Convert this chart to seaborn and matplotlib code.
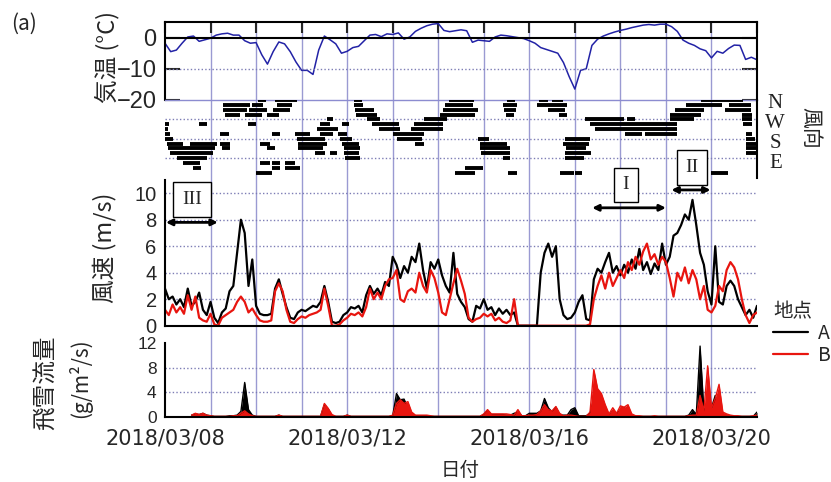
import numpy as np
import pandas as pd
import matplotlib
matplotlib.use("Agg")
import matplotlib.pyplot as plt
import matplotlib.dates as mdates
import matplotlib.transforms as mtransforms
import seaborn as sns

# ---------------- data ----------------
start_date = "2018-03-08"
n_days = 13
sites = ["A", "B"]

temp_step_hours = 3
temperature = [
    -1.8, -4.5, -4.0, -1.8, 0.2, 0.5, -1.2, -0.7,
    -0.2, 0.8, 1.2, 1.4, 0.8, 0.8, -1.0, -1.8,
    -1.6, -5.5, -8.5, -4.5, -1.4, -2.0, -4.5, -7.8,
    -10.5, -10.5, -11.8, -4.0, 0.5, -0.7, -2.0, -5.0,
    -4.4, -3.2, -2.8, -1.0, 0.8, 1.0, 0.3, 1.2,
    1.0, 1.5, -0.5, 0.2, 2.0, 3.0, 3.8, 4.3,
    4.5, 2.3, 1.9, 2.2, 2.5, 2.2, -1.5, -0.8,
    -1.0, -1.2, 0.2, 0.8, 0.6, 0.3, 0.0, -0.3,
    -1.0, -1.8, -3.2, -3.8, -4.4, -5.0, -8.0, -12.5,
    -16.5, -10.5, -10.0, -2.5, -0.5, 0.5, 1.2, 1.8,
    2.3, 2.7, 3.2, 3.6, 4.0, 4.2, 4.0, 4.3,
    4.3, 3.5, 2.0, -0.8, -1.8, -2.5, -3.6, -4.2,
    -6.5, -4.4, -5.0, -3.5, -2.4, -2.5, -7.0, -6.3,
    -7.1,
]

speed_step_hours = 2
speed_A = [
    2.8, 2.0, 2.2, 1.6, 2.0, 1.4, 2.8, 1.5, 1.8, 2.5, 1.2, 0.8,
    1.8, 0.6, 0.2, 1.0, 1.3, 2.6, 3.0, 5.5, 8.0, 7.0, 3.0, 5.0,
    1.5, 0.9, 0.8, 0.8, 0.9, 2.8, 3.5, 2.4, 1.4, 0.6, 0.5, 1.0,
    1.2, 1.1, 1.3, 1.5, 1.4, 1.8, 3.0, 1.8, 0.3, 0.2, 0.3, 0.8,
    1.0, 1.4, 1.3, 1.5, 1.0, 2.3, 3.0, 2.4, 2.8, 2.3, 3.3, 3.0,
    5.2, 4.6, 3.6, 4.5, 4.0, 5.2, 4.8, 6.2, 4.2, 2.8, 4.8, 4.3,
    5.0, 3.8, 3.0, 2.5, 5.5, 2.4, 1.8, 1.4, 0.5, 0.3, 1.5, 1.3,
    2.0, 1.2, 1.4, 0.8, 1.3, 0.9, 1.2, 0.8, 1.0, 0.0, 0.0, 0.0,
    0.0, 0.0, 0.0, 4.0, 5.5, 6.2, 5.2, 6.0, 2.0, 0.8, 0.5, 0.6,
    1.0, 1.8, 2.3, 0.5, 0.4, 3.5, 4.3, 4.0, 4.8, 5.5, 4.0, 4.5,
    3.8, 4.6, 4.0, 5.0, 4.3, 5.8, 4.2, 4.8, 3.9, 4.7, 4.2, 6.2,
    4.6, 5.2, 6.8, 7.0, 7.6, 8.4, 8.0, 9.5, 7.6, 5.5, 4.6, 2.6,
    1.6, 6.0, 1.8, 1.6, 3.0, 3.4, 3.0, 2.0, 1.4, 0.8, 1.2, 0.6,
    1.5,
]
speed_B = [
    1.2, 0.8, 1.6, 1.0, 1.4, 0.9, 2.3, 1.2, 2.2, 0.6, 0.4, 0.3,
    0.9, 0.1, 0.0, 0.6, 0.8, 1.0, 1.2, 1.8, 2.2, 1.8, 1.0, 1.3,
    0.8, 0.4, 0.3, 0.3, 0.4, 2.6, 3.2, 2.6, 1.2, 0.3, 0.2, 0.5,
    0.7, 0.6, 0.8, 0.9, 1.0, 1.2, 2.8, 1.5, 0.0, 0.0, 0.1, 0.4,
    0.6, 0.9, 0.8, 1.0, 0.7, 1.4, 2.8, 2.0, 2.5, 2.0, 3.0, 3.5,
    3.6, 4.2, 2.0, 1.8, 2.6, 2.8, 2.5, 4.0, 3.0, 2.5, 4.2, 3.6,
    2.5, 1.0, 0.8, 2.0, 3.2, 4.3, 3.4, 2.4, 0.6, 0.3, 0.5, 0.6,
    0.9, 0.7, 0.9, 0.4, 0.6, 0.3, 0.2, 0.4, 2.0, 0.0, 0.0, 0.0,
    0.0, 0.0, 0.0, 0.0, 0.0, 0.0, 0.0, 0.0, 0.0, 0.0, 0.0, 0.0,
    0.0, 0.0, 0.0, 0.0, 0.1, 2.0, 3.0, 3.8, 2.8, 4.0, 3.0, 3.6,
    4.2, 3.6, 4.8, 4.2, 5.2, 4.6, 5.6, 6.2, 5.0, 5.4, 4.6, 5.2,
    4.8, 3.6, 2.2, 4.0, 3.4, 4.4, 3.2, 4.2, 3.5, 2.0, 3.0, 1.2,
    1.0, 1.5, 3.0, 2.6, 4.2, 4.8, 4.4, 3.5, 2.0, 0.8, 0.2, 0.8,
    1.0,
]

nan = float("nan")
flux_A = [
    nan, nan, nan, nan, nan, nan, nan, 0.3, 0.5, 0.4, 0.6, 0.3,
    0.2, 0.1, 0.1, 0.1, 0.1, 0.2, 0.2, 0.3, 0.9, 5.6, 1.2, 0.3,
    0.1, 0.1, 0.1, 0.1, 0.1, 0.1, 0.3, 0.1, 0.1, 0.1, 0.1, 0.1,
    0.1, 0.1, 0.1, 0.1, 0.1, 0.1, 2.0, 1.3, 0.2, 0.1, 0.1, 0.1,
    0.3, 0.1, 0.1, 0.1, 0.1, 0.1, 0.1, 0.1, 0.1, 0.1, 0.1, 0.1,
    0.2, 3.8, 2.8, 2.9, 1.5, 0.6, 0.2, 0.2, 0.2, 0.2, 0.1, 0.1,
    0.1, 0.1, 0.1, 0.1, 0.1, 0.1, 0.1, 0.1, 0.1, 0.1, 0.1, 0.1,
    0.4, 1.0, 0.4, 0.4, 0.4, 0.4, 0.3, 0.3, 0.6, 0.8, 0.2, 0.2,
    0.6, 0.6, 0.6, 1.0, 3.0, 1.5, 0.8, 1.6, 0.3, 0.3, 0.3, 1.2,
    1.5, 0.2, 0.2, 0.2, 0.6, 3.0, 2.0, 1.0, 0.3, 0.3, 1.0, 0.5,
    1.2, 1.5, 0.6, 0.1, 0.1, 0.1, 0.1, 0.1, 0.1, 0.1, 0.1, 0.1,
    0.1, 0.1, 0.1, 0.1, 0.1, 0.1, 0.3, 1.2, 0.4, 11.5, 1.0, 2.0,
    1.5, 3.5, 1.0, 0.4, 0.3, 0.1, 0.1, 0.1, 0.1, 0.1, 0.1, 0.1,
    0.8,
]
flux_B = [
    nan, nan, nan, nan, nan, nan, nan, 0.3, 0.6, 0.4, 0.6, 0.3,
    0.2, 0.1, 0.1, 0.1, 0.1, 0.1, 0.2, 0.2, 0.6, 1.0, 0.5, 0.2,
    0.1, 0.1, 0.1, 0.1, 0.1, 0.1, 0.3, 0.1, 0.1, 0.1, 0.1, 0.1,
    0.1, 0.1, 0.1, 0.1, 0.1, 0.1, 2.2, 1.4, 0.4, 0.1, 0.1, 0.1,
    0.3, 0.1, 0.1, 0.1, 0.1, 0.1, 0.1, 0.1, 0.1, 0.1, 0.1, 0.1,
    0.3, 2.2, 2.8, 2.2, 2.5, 0.8, 0.3, 0.3, 0.3, 0.3, 0.2, 0.1,
    0.1, 0.1, 0.1, 0.1, 0.1, 0.1, 0.1, 0.1, 0.1, 0.1, 0.1, 0.1,
    0.5, 1.2, 0.5, 0.5, 0.5, 0.5, 0.5, 0.4, 0.3, 1.2, 0.2, 0.2,
    0.3, 0.3, 0.4, 1.0, 2.0, 1.2, 1.0, 1.7, 0.6, 0.2, 0.3, 0.3,
    0.2, 0.1, 0.1, 0.1, 0.8, 7.7, 4.6, 3.8, 2.0, 0.5, 1.5, 0.6,
    1.8, 1.6, 2.0, 0.5, 0.2, 0.2, 0.1, 0.1, 0.1, 0.2, 0.1, 0.1,
    0.1, 0.1, 0.1, 0.1, 0.1, 0.1, 0.2, 0.3, 0.3, 3.5, 1.0, 8.3,
    1.5, 3.0, 5.3, 0.8, 0.5, 0.3, 0.2, 0.2, 0.1, 0.1, 0.1, 0.2,
    0.3,
]

# wind-direction periods (start day, end day) after start_date, per compass point
dir_N = [(2.05, 2.22), (2.42, 2.90), (4.14, 4.32), (6.24, 6.78), (7.50, 7.68),
         (8.22, 8.42), (8.50, 8.74), (11.76, 12.70)]
dir_NNW = [(1.28, 1.87), (1.90, 2.16), (2.45, 2.78), (4.14, 4.34), (6.15, 6.77),
           (7.43, 7.73), (8.17, 8.83), (11.43, 12.24), (12.38, 12.86)]
dir_NW = [(1.28, 1.80), (1.85, 2.23), (2.38, 2.75), (4.18, 4.58), (6.10, 6.88),
          (7.45, 7.70), (8.40, 8.79), (11.20, 11.83), (12.30, 12.86)]
dir_WNW = [(1.32, 1.65), (1.76, 2.12), (2.23, 2.50), (4.20, 4.65), (6.04, 6.81),
           (7.48, 7.66), (8.65, 8.83), (11.10, 11.78), (12.67, 12.90)]
dir_W = [(3.55, 3.70), (4.43, 4.73), (5.68, 6.19), (9.23, 10.07), (10.14, 10.33),
         (11.10, 11.62), (12.67, 12.90)]
dir_WSW = [(0.00, 0.08), (0.75, 0.92), (1.83, 2.00), (3.40, 3.63), (3.88, 4.03),
           (4.54, 5.13), (5.46, 6.11), (9.34, 11.24), (12.70, 12.90)]
dir_SW = [(0.00, 0.06), (3.33, 3.80), (4.69, 5.16), (5.40, 6.10), (9.45, 11.24)]
dir_SSW = [(0.00, 0.10), (1.20, 1.40), (2.34, 2.53), (2.86, 3.19), (3.40, 3.70),
           (3.80, 4.00), (5.00, 5.68), (10.11, 10.48), (10.55, 11.24), (12.75, 12.90)]
dir_S = [(0.00, 0.18), (2.90, 3.52), (3.85, 4.10), (5.10, 5.65), (6.88, 7.12),
         (8.79, 9.34), (12.75, 12.95)]
dir_SSE = [(0.04, 0.40), (0.55, 1.14), (1.20, 1.43), (2.09, 2.30), (2.93, 3.55),
           (3.88, 4.25), (5.50, 5.68), (6.92, 7.50), (8.75, 9.30), (12.75, 12.98)]
dir_SE = [(0.07, 1.10), (1.25, 1.43), (2.23, 2.42), (2.93, 3.48), (3.92, 4.28),
          (6.92, 7.58), (8.80, 9.25), (12.75, 12.98)]
dir_ESE = [(0.10, 1.06), (3.30, 3.52), (3.63, 3.77), (3.92, 4.25), (6.95, 7.58),
           (8.79, 9.36), (12.75, 12.98)]
dir_E = [(0.26, 0.92), (3.96, 4.28), (7.43, 7.58), (8.79, 9.20)]
dir_ENE = [(0.40, 0.77), (2.09, 2.30), (2.34, 2.53), (2.64, 2.86)]
dir_NE = [(0.62, 0.80), (2.36, 2.53), (2.64, 2.97), (6.59, 6.99)]
dir_NNE = [(2.00, 2.34), (6.37, 6.81), (7.54, 7.73), (8.68, 8.98), (9.00, 9.16),
           (11.98, 12.37)]

compass_degrees = [360, 337.5, 315, 292.5, 270, 247.5, 225, 202.5,
                   180, 157.5, 135, 112.5, 90, 67.5, 45, 22.5]
compass_periods = [dir_N, dir_NNW, dir_NW, dir_WNW, dir_W, dir_WSW, dir_SW, dir_SSW,
                   dir_S, dir_SSE, dir_SE, dir_ESE, dir_E, dir_ENE, dir_NE, dir_NNE]
direction_labels = ["N", "W", "S", "E"]
direction_label_deg = [344, 253, 156, 67]

date_label_days = [0, 4, 8, 12]
temp_ticks = [0, -10, -20]
speed_ticks = [0, 2, 4, 6, 8, 10]
flux_ticks = [0, 4, 8, 12]

period_names = ["III", "I", "II"]
period_start_day = [0.02, 9.38, 11.12]
period_end_day = [1.16, 11.00, 11.98]
period_arrow_speed = [7.8, 8.9, 10.25]
period_label_day = [0.59, 10.12, 11.57]
period_label_speed = [9.53, 10.63, 11.95]

# ---------------- style ----------------
sns.set_style("white")
plt.rcParams["font.family"] = ["Noto Sans CJK JP", "DejaVu Sans"]
plt.rcParams["axes.unicode_minus"] = True

W_PX, H_PX = 831, 482
fig = plt.figure(figsize=(W_PX / 100, H_PX / 100), dpi=100)
fig.patch.set_facecolor("white")


def rect(top_px, bottom_px, left_px=165, right_px=757):
    return [left_px / W_PX, 1 - bottom_px / H_PX,
            (right_px - left_px) / W_PX, (bottom_px - top_px) / H_PX]


t0 = pd.Timestamp(start_date)
x0 = mdates.date2num(t0)


def dnum(d):
    return x0 + np.asarray(d, dtype=float)


xlim = (dnum(0), dnum(n_days))
day_ticks = [dnum(d) for d in range(0, n_days + 1)]
GRID_V = "#9a9ad2"
GRID_H = "#7d7db5"
DOT = (0, (1, 1.6))
TICK_FONT = "Liberation Sans"


def style_yticklabels(ax, size):
    for lab in ax.get_yticklabels():
        lab.set_family(TICK_FONT)
        lab.set_fontsize(size)


# background axes carrying the daily vertical grid lines across all panels
bg = fig.add_axes(rect(22, 417))
bg.set_xlim(*xlim)
bg.set_ylim(0, 1)
bg.axis("off")
for d in range(1, n_days):
    bg.axvline(dnum(d), color=GRID_V, lw=1.0)
bg.set_zorder(0)

# ---- temperature ----
ax_t = fig.add_axes(rect(22, 100))
ax_t.set_facecolor("none")
ax_t.set_zorder(2)
t_temp = t0 + pd.to_timedelta(np.arange(len(temperature)) * temp_step_hours, unit="h")
df_temp = pd.DataFrame({"時刻": t_temp, "気温": temperature})
sns.lineplot(data=df_temp, x="時刻", y="気温", color="#2222a6", lw=1.1, ax=ax_t)
ax_t.axhline(0, color="black", lw=1.5, zorder=3)
ax_t.axhline(-10, color=GRID_H, lw=1.0, ls=DOT)
ax_t.set_xlim(*xlim)
ax_t.set_ylim(-20, 5)
ax_t.set_yticks(temp_ticks)
ax_t.set_yticklabels([f"{v:d}".replace("-", "\u2212") for v in temp_ticks])
ax_t.set_xticks(day_ticks)
ax_t.tick_params(axis="y", direction="in", length=11, width=1.5, left=True, right=True,
                 pad=6)
style_yticklabels(ax_t, 17)
ax_t.tick_params(axis="x", direction="in", length=8, width=1.5, top=True, bottom=False,
                 labelbottom=False, labeltop=False)
for s in ["left", "top", "right"]:
    ax_t.spines[s].set_color("black")
    ax_t.spines[s].set_linewidth(1.5)
ax_t.spines["bottom"].set_color("#8c8cd0")
ax_t.spines["bottom"].set_linewidth(1.0)
ax_t.set_xlabel("")
ax_t.set_ylabel("")

# ---- wind direction ----
ax_d = fig.add_axes(rect(100, 177.5))
ax_d.set_facecolor("none")
ax_d.set_zorder(2)
ax_d.set_xlim(*xlim)
ax_d.set_ylim(0, 360)
for deg in [270, 180, 90]:
    ax_d.axhline(deg, color=GRID_H, lw=1.0, ls=DOT)
for deg, periods in zip(compass_degrees, compass_periods):
    starts = dnum([p[0] for p in periods])
    ends = dnum([p[1] for p in periods])
    ax_d.hlines([deg] * len(periods), starts, ends, color="black", lw=2.8,
                capstyle="butt", zorder=3)
for s in ["left", "top", "bottom"]:
    ax_d.spines[s].set_visible(False)
ax_d.spines["right"].set_color("black")
ax_d.spines["right"].set_linewidth(1.5)
ax_d.set_xticks([])
ax_d.set_yticks([])
trans_d = mtransforms.blended_transform_factory(ax_d.transAxes, ax_d.transData)
for lab, deg in zip(direction_labels, direction_label_deg):
    ax_d.text(1.031, deg, lab, transform=trans_d, ha="center", va="center",
              fontsize=15, family="Liberation Serif", color="#222222")

# ---- wind speed ----
ax_s = fig.add_axes(rect(180, 325.7))
ax_s.set_facecolor("none")
ax_s.set_zorder(3)
t_sp = t0 + pd.to_timedelta(np.arange(len(speed_A)) * speed_step_hours, unit="h")
n_sp = len(t_sp)
df_speed = pd.DataFrame({
    "時刻": np.concatenate([t_sp, t_sp]),
    "風速": speed_A + speed_B,
    "地点": [sites[0]] * n_sp + [sites[1]] * n_sp,
})
sns.lineplot(data=df_speed, x="時刻", y="風速", hue="地点", hue_order=sites,
             palette={"A": "black", "B": "#e8150f"}, lw=1.6, estimator=None, ax=ax_s)
for v in speed_ticks[1:]:
    ax_s.axhline(v, color=GRID_H, lw=1.0, ls=DOT, zorder=0)
ax_s.set_xlim(*xlim)
ax_s.set_ylim(0, 11)
ax_s.set_yticks(speed_ticks)
ax_s.tick_params(axis="y", direction="in", length=11, width=1.5, pad=6)
style_yticklabels(ax_s, 14.5)
ax_s.tick_params(axis="x", bottom=False, labelbottom=False)
ax_s.spines["top"].set_visible(False)
ax_s.spines["right"].set_visible(False)
for s in ["left", "bottom"]:
    ax_s.spines[s].set_color("black")
    ax_s.spines[s].set_linewidth(1.5)
ax_s.set_xlabel("")
ax_s.set_ylabel("")
sns.move_legend(ax_s, "upper left", bbox_to_anchor=(1.027, 0.17), frameon=False,
                fontsize=14, title_fontsize=14, handlelength=1.8, handletextpad=0.5,
                borderaxespad=0, borderpad=0, labelspacing=0.05, alignment="left")
for line in ax_s.get_legend().get_lines():
    line.set_linewidth(1.6)

for name, a, b, yv, lx, ly in zip(period_names, period_start_day, period_end_day,
                                  period_arrow_speed, period_label_day, period_label_speed):
    ax_s.annotate("", xy=(dnum(b), yv), xytext=(dnum(a), yv),
                  arrowprops=dict(arrowstyle="<|-|>", color="black", lw=2.0,
                                  mutation_scale=9, shrinkA=0, shrinkB=0),
                  annotation_clip=False, zorder=6)
    ax_s.text(dnum(lx), ly, name, ha="center", va="center", fontsize=14,
              family="Liberation Serif", zorder=7, clip_on=False,
              bbox=dict(boxstyle="square,pad=0.45", fc="white", ec="black", lw=1.0))

# ---- snow flux ----
ax_f = fig.add_axes(rect(343, 417))
ax_f.set_facecolor("none")
ax_f.set_zorder(2)
df_flux = pd.DataFrame({
    "時刻": np.concatenate([t_sp, t_sp]),
    "飛雪流量": flux_A + flux_B,
    "地点": [sites[0]] * n_sp + [sites[1]] * n_sp,
})
sns.lineplot(data=df_flux, x="時刻", y="飛雪流量", hue="地点", hue_order=sites,
             palette={"A": "black", "B": "#e8150f"}, lw=1.0, estimator=None,
             legend=False, ax=ax_f)
x_sp = mdates.date2num(t_sp)
ax_f.fill_between(x_sp, np.array(flux_A), 0, color="black", lw=0, zorder=1)
ax_f.fill_between(x_sp, np.array(flux_B), 0, color="#e8150f", lw=0, zorder=2.5)
for v in flux_ticks[1:3]:
    ax_f.axhline(v, color=GRID_H, lw=1.0, ls=DOT, zorder=0)
ax_f.set_xlim(*xlim)
ax_f.set_ylim(0, 12)
ax_f.set_yticks(flux_ticks)
ax_f.set_xticks(day_ticks)
ax_f.set_xticklabels([(t0 + pd.Timedelta(days=d)).strftime("%Y/%m/%d")
                      if d in date_label_days else "" for d in range(0, n_days + 1)])
ax_f.tick_params(axis="y", direction="in", length=11, width=1.5, pad=6)
style_yticklabels(ax_f, 12.5)
ax_f.tick_params(axis="x", direction="in", length=9, width=1.5, pad=8)
for lab in ax_f.get_xticklabels():
    lab.set_family("DejaVu Sans")
    lab.set_fontsize(15)
ax_f.spines["top"].set_visible(False)
ax_f.spines["right"].set_visible(False)
for s in ["left", "bottom"]:
    ax_f.spines[s].set_color("black")
    ax_f.spines[s].set_linewidth(1.5)
ax_f.set_xlabel("")
ax_f.set_ylabel("")

# ---- labels ----
fig.text(107 / W_PX, 1 - 57 / H_PX, "気温 (°C)", rotation=90, ha="center", va="center",
         fontsize=17)
fig.text(104 / W_PX, 1 - 248 / H_PX, "風速 (m/s)", rotation=90, ha="center", va="center",
         fontsize=17)
fig.text(46 / W_PX, 1 - 383 / H_PX, "飛雪流量", rotation=90, ha="center", va="center",
         fontsize=17)
fig.text(80 / W_PX, 1 - 378 / H_PX, "(g/m²/s)", rotation=90, ha="center", va="center",
         fontsize=15)
fig.text(810 / W_PX, 1 - 128 / H_PX, "風向", rotation=-90, ha="center", va="center",
         fontsize=15)
fig.text(460 / W_PX, 1 - 470 / H_PX, "日付", ha="center", va="center", fontsize=14)
fig.text(24 / W_PX, 1 - 24 / H_PX, "(a)", ha="center", va="center", fontsize=15)

fig.savefig("out.png", dpi=100, facecolor="white")
